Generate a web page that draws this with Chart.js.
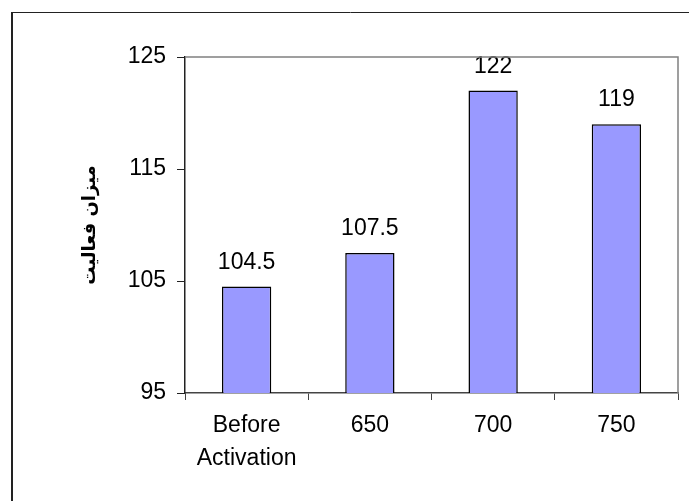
<!DOCTYPE html>
<html>
<head>
<meta charset="utf-8">
<script src="https://cdn.jsdelivr.net/npm/chart.js@4/dist/chart.umd.min.js"></script>
<style>
  body { margin: 0; background: #fff; }
  canvas { display: block; }
</style>
</head>
<body>
<canvas id="myChart" width="689" height="501"></canvas>
<script>
const categories = [['Before', 'Activation'], '650', '700', '750'];
const activity = [104.5, 107.5, 122, 119];
const yTicks = [95, 105, 115, 125];
const yTitle = 'میزان فعالیت';

const FONT = '"Liberation Sans", Arial, sans-serif';

// outer frame + gray plot border
const framePlugin = {
  id: 'frame',
  beforeDraw(chart) {
    const c = chart.ctx;
    c.save();
    c.fillStyle = '#fff';
    c.fillRect(0, 0, chart.width, chart.height);
    c.strokeStyle = '#222';
    c.lineWidth = 2;
    c.beginPath();
    c.moveTo(12, 12);
    c.lineTo(12, chart.height + 5);
    c.stroke();
    c.lineWidth = 1;
    c.beginPath();
    c.moveTo(11, 12.5);
    c.lineTo(chart.width + 5, 12.5);
    c.stroke();
    c.restore();
  },
  afterDraw(chart) {
    const a = chart.chartArea;
    const c = chart.ctx;
    c.save();
    c.strokeStyle = '#808080';
    c.lineWidth = 1.5;
    c.beginPath();
    c.moveTo(a.left, a.top);
    c.lineTo(a.right, a.top);
    c.lineTo(a.right, a.bottom);
    c.stroke();
    c.restore();
  }
};

// value labels above bars
const valueLabels = {
  id: 'valueLabels',
  afterDatasetsDraw(chart) {
    const c = chart.ctx;
    const meta = chart.getDatasetMeta(0);
    c.save();
    c.font = '23px ' + FONT;
    c.fillStyle = '#000';
    c.textAlign = 'center';
    c.textBaseline = 'alphabetic';
    meta.data.forEach((bar, i) => {
      c.fillText(String(activity[i]), bar.x, bar.y - 18);
    });
    c.restore();
  }
};

var ctx = document.getElementById('myChart').getContext('2d');
var chart = new Chart(ctx, {
  type: 'bar',
  data: {
    labels: categories,
    datasets: [{
      data: activity,
      backgroundColor: '#9999ff',
      borderColor: '#000',
      borderWidth: 1.5,
      borderSkipped: false,
      barPercentage: 0.4,
      categoryPercentage: 1.0
    }]
  },
  options: {
    responsive: false,
    animation: false,
    layout: { padding: { left: 0, top: 57, right: 11, bottom: 0 } },
    plugins: {
      legend: { display: false },
      tooltip: { enabled: false }
    },
    scales: {
      x: {
        grid: { display: true, drawOnChartArea: false, offset: true, tickLength: 7, color: '#444', lineWidth: 1 },
        border: { color: '#444', width: 1.5 },
        ticks: { color: '#000', font: { family: FONT, size: 23, lineHeight: 1.43 }, padding: 9, maxRotation: 0 },
        afterFit(scale) { scale.height = 108; }
      },
      y: {
        min: 95,
        max: 125,
        afterBuildTicks(scale) { scale.ticks = yTicks.map(v => ({ value: v })); },
        grid: { display: true, drawOnChartArea: false, tickLength: 8, color: '#222' },
        border: { color: '#222', width: 1.5 },
        ticks: { color: '#000', font: { family: FONT, size: 23 }, padding: 11 },
        title: {
          display: true,
          text: yTitle,
          color: '#000',
          font: { family: '"DejaVu Sans", sans-serif', size: 18, weight: 'bold' },
          padding: { top: 80, bottom: 0 }
        },
        afterFit(scale) { scale.width = 185; }
      }
    }
  },
  plugins: [framePlugin, valueLabels]
});
</script>
</body>
</html>
